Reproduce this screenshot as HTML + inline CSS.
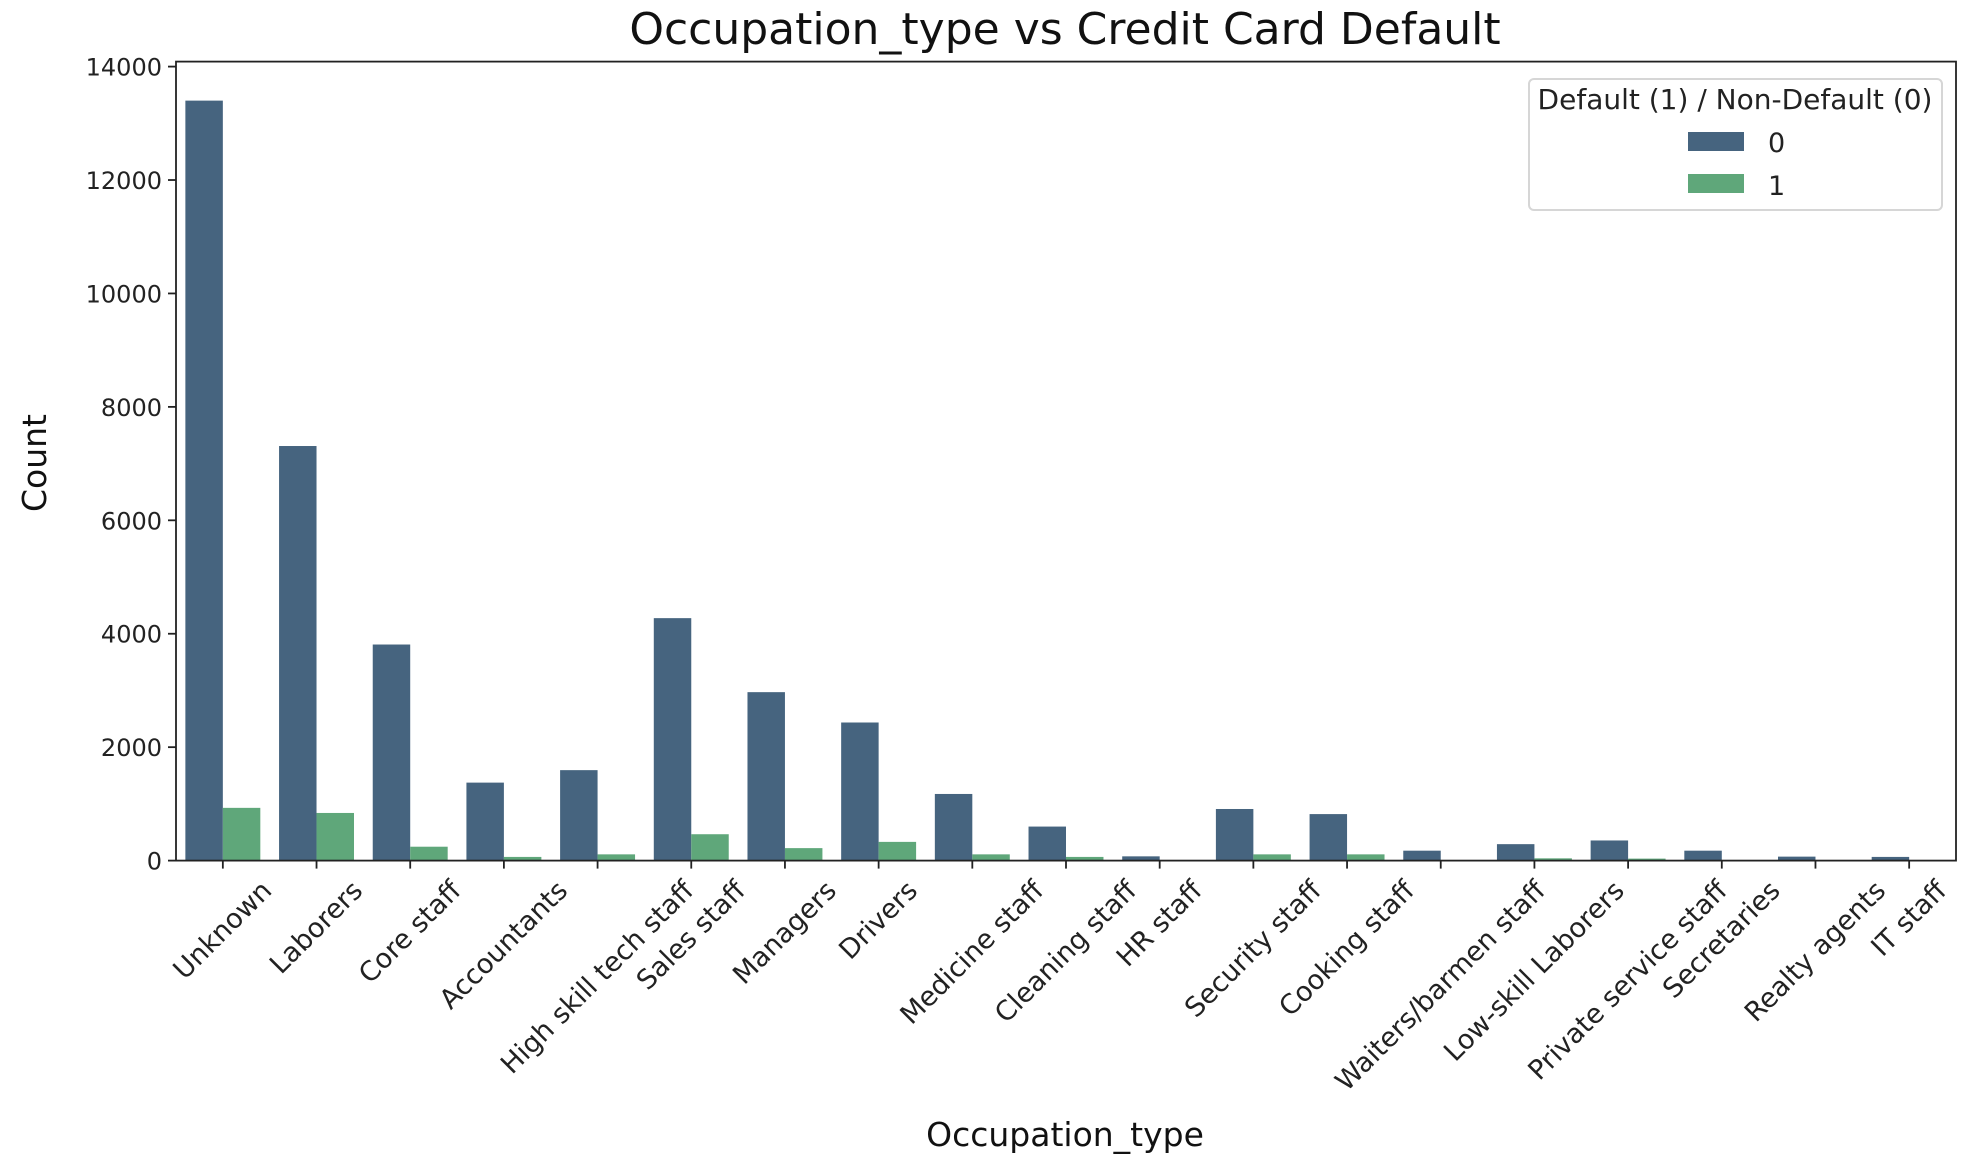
<!DOCTYPE html>
<html><head><meta charset="utf-8"><style>
html,body{margin:0;padding:0;background:#fff;}
svg{display:block;font-family:"DejaVu Sans","Liberation Sans",sans-serif;}
</style></head><body>
<svg id="chart" width="1970" height="1158" viewBox="0 0 1970 1158">
<rect x="0" y="0" width="1970" height="1158" fill="#fff"/>
<g id="bars"></g>
<g id="axes"></g>
<text x="1065" y="44" font-size="44" text-anchor="middle" fill="#111">Occupation_type vs Credit Card Default</text>
<text x="1065" y="1146" font-size="33" text-anchor="middle" fill="#111">Occupation_type</text>
<text transform="translate(46,463) rotate(-90)" font-size="33" text-anchor="middle" fill="#111">Count</text>
<g>
<rect x="1529" y="79" width="413" height="131" rx="5" fill="#fff" stroke="#d6d6d6" stroke-width="2"/>
<text x="1735" y="109" font-size="28" text-anchor="middle" fill="#222">Default (1) / Non-Default (0)</text>
<rect x="1688" y="132" width="56" height="19" fill="#46647f"/>
<text x="1768" y="152" font-size="27" fill="#222">0</text>
<rect x="1688" y="174" width="56" height="19" fill="#5fa77a"/>
<text x="1768" y="195" font-size="27" fill="#222">1</text>
</g>
</svg>
<script>
const categories = ["Unknown","Laborers","Core staff","Accountants","High skill tech staff","Sales staff","Managers","Drivers","Medicine staff","Cleaning staff","HR staff","Security staff","Cooking staff","Waiters/barmen staff","Low-skill Laborers","Private service staff","Secretaries","Realty agents","IT staff"];
const nonDefault = [13400,7310,3810,1375,1595,4275,2970,2435,1175,600,75,910,820,175,290,355,175,70,65];
const defaulted = [930,840,245,65,110,465,220,330,110,65,5,110,110,5,40,35,3,2,2];
const yTicks = [0,2000,4000,6000,8000,10000,12000,14000];

const NS = "http://www.w3.org/2000/svg";
const L = 176, R = 1956, T = 61.6, B = 860.6;
const yMax = 14088;
const xScale = i => L + (i + 0.5) * (R - L) / categories.length;
const yScale = v => B - v / yMax * (B - T);
const band = (R - L) / categories.length;
const bw = band * 0.4;

const bars = document.getElementById('bars');
const axes = document.getElementById('axes');
function mk(tag, attrs, parent) {
  const e = document.createElementNS(NS, tag);
  for (const k in attrs) e.setAttribute(k, attrs[k]);
  parent.appendChild(e);
  return e;
}
categories.forEach((c, i) => {
  const cx = xScale(i);
  const b0 = mk('rect', {x: cx - bw, y: yScale(nonDefault[i]), width: bw, height: B - yScale(nonDefault[i]), fill: '#46647f'}, bars);
  
  
  const b1 = mk('rect', {x: cx, y: yScale(defaulted[i]), width: bw, height: B - yScale(defaulted[i]), fill: '#5fa77a'}, bars);
  
  
  const tk = mk('line', {x1: cx, x2: cx, y1: B, y2: B + 8, stroke: '#222', 'stroke-width': 1.8}, axes);
  
  
  const t = mk('text', {'font-size': 27, 'text-anchor': 'middle', 'dominant-baseline': 'central', fill: '#222'}, axes);
  t.textContent = c;
  
  
  const len = t.getComputedTextLength();
  const d = (len + 27) * 0.7071 / 2;
  t.setAttribute('transform', 'translate(' + cx + ',' + (B + 16 + d) + ') rotate(-45)');
});
yTicks.forEach(v => {
  const y = yScale(v);
  const tk = mk('line', {x1: L - 8, x2: L, y1: y, y2: y, stroke: '#222', 'stroke-width': 1.8}, axes);
  
  
  const t = mk('text', {x: L - 14, y: y + 9, 'font-size': 24, 'text-anchor': 'end', fill: '#222'}, axes);
  t.textContent = v;
  
  
});
const frame = mk('rect', {x: L, y: T, width: R - L, height: B - T, fill: 'none', stroke: '#222', 'stroke-width': 1.8}, axes);


</script>
</body></html>
